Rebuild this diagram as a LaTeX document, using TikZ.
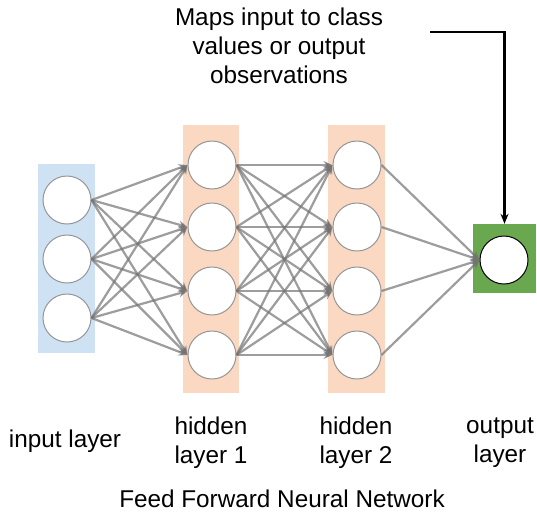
\documentclass[tikz,border=0pt]{standalone}
\usepackage{fontspec}
\setmainfont{Liberation Sans}
\usetikzlibrary{arrows.meta,positioning,calc}
\definecolor{layerblue}{RGB}{207,226,243}
\definecolor{layerpeach}{RGB}{250,216,194}
\definecolor{outgreen}{RGB}{106,168,79}
\definecolor{ringgray}{RGB}{150,150,150}

\tikzset{
  neuron/.style={circle, draw=ringgray, line width=1pt, fill=white, minimum size=48pt, inner sep=0pt},
  link/.style={draw=black!55, draw opacity=0.7, line width=2.2pt, -{Stealth[length=9pt,width=8pt]}},
  caption/.style={font=\fontsize{24.3}{29}\selectfont, align=center}
}

\begin{document}
\begin{tikzpicture}[x=1pt, y=-1pt]
                \useasboundingbox (0,0) rectangle (537,512);
                
                % Layer backgrounds
                \fill[layerblue] (38,164) rectangle (95,353);
                \fill[layerpeach] (183,125) rectangle (239,393);
                \fill[layerpeach] (328,125) rectangle (385,393);
                \node[fill=outgreen, minimum width=63pt, minimum height=69pt, inner sep=0pt] (outbox) at (504.5,258.5) {};
                
                % Neurons
                \foreach \i/\y in {1/200, 2/259, 3/318}
                    \node[neuron] (in\i) at (67,\y) {};
                \foreach \i/\y in {1/165, 2/227, 3/291, 4/355} {
                    \node[neuron] (ha\i) at (212,\y) {};
                    \node[neuron] (hb\i) at (357,\y) {};
                }
                \node[neuron, draw=black] (out) at (504,260) {};
                
                % Connections
                \foreach \i in {1,2,3}
                    \foreach \j in {1,2,3,4}
                        \draw[link] (in\i.east) -- (ha\j.west);
                \foreach \i in {1,2,3,4}
                    \foreach \j in {1,2,3,4}
                        \draw[link] (ha\i.east) -- (hb\j.west);
                \foreach \i in {1,2,3,4}
                    \draw[link] (hb\i.east) -- (out.west);
                
                % Annotation
                \node[caption] (note) at (279,46) {Maps input to class\\values or output\\observations};
                \coordinate (notestart) at (430,32);
                \draw[line width=2.2pt, -{Stealth[length=10pt,width=8pt]}] (notestart) -| (outbox.north);
                
                % Labels
                \node[caption] (inlabel) at (65,441) {input layer};
                \node[caption] (halabel) at (211,443) {hidden\\layer 1};
                \node[caption] (hblabel) at (356,443) {hidden\\layer 2};
                \node[caption] (outlabel) at (500,443) {output\\layer};
                \node[caption, inner sep=0pt] (title) at (282,499) {Feed Forward Neural Network};
            \end{tikzpicture}
\end{document}
